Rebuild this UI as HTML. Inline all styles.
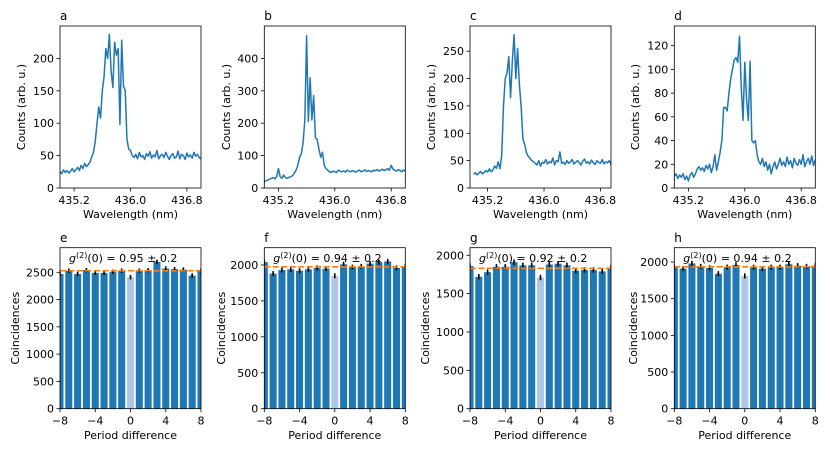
<!DOCTYPE html>
<html><head><meta charset="utf-8"><style>
body{margin:0;background:#fff}
svg{display:block;font-family:"DejaVu Sans","Liberation Sans",sans-serif}
</style></head><body>
<svg id="fig" width="830" height="453" viewBox="0 0 830 453" xmlns="http://www.w3.org/2000/svg"></svg>
<script>
const wavelengths=[435.0,435.025,435.05,435.075,435.1,435.125,435.15,435.175,435.2,435.225,435.25,435.275,435.3,435.325,435.35,435.375,435.4,435.425,435.45,435.475,435.5,435.525,435.55,435.575,435.6,435.625,435.65,435.675,435.7,435.725,435.75,435.775,435.8,435.825,435.85,435.875,435.9,435.925,435.95,435.975,436.0,436.025,436.05,436.075,436.1,436.125,436.15,436.175,436.2,436.225,436.25,436.275,436.3,436.325,436.35,436.375,436.4,436.425,436.45,436.475,436.5,436.525,436.55,436.575,436.6,436.625,436.65,436.675,436.7,436.725,436.75,436.775,436.8,436.825,436.85,436.875,436.9,436.925,436.95,436.975,437.0];
const countsA=[25,22,28,24,27,23,26,30,25,28,32,27,35,30,38,33,36,40,48,55,72,100,125,108,150,172,215,200,237,180,155,225,205,215,98,228,158,150,75,60,58,50,47,52,45,55,48,50,44,53,49,56,46,51,48,58,45,50,52,47,55,49,44,50,53,46,48,57,45,52,50,44,54,48,51,46,55,49,52,47,45];
const countsB=[20,22,25,27,30,32,28,35,60,35,30,40,32,30,33,35,38,45,55,70,95,105,140,210,470,205,340,210,285,155,150,120,95,110,70,60,55,50,48,52,50,48,55,52,50,53,49,55,52,50,54,51,49,53,55,50,52,56,51,54,52,50,55,53,57,52,55,58,54,56,60,55,70,58,55,52,57,54,50,56,52];
const countsC=[25,28,24,27,30,26,28,32,29,35,30,33,40,36,48,35,60,150,200,210,240,165,230,280,200,255,190,150,90,80,65,58,55,50,48,45,42,50,40,47,45,52,44,48,46,55,42,50,48,66,45,47,43,50,45,48,52,44,47,50,46,42,49,53,45,48,44,51,46,43,50,47,45,52,44,48,46,50,43,47,49];
const countsD=[10,12,8,11,9,12,7,10,6,11,13,9,12,16,18,15,17,14,19,16,20,13,18,28,15,22,30,40,68,68,65,80,92,100,108,110,106,128,85,57,106,75,57,107,40,38,40,28,22,20,25,18,22,15,20,12,18,22,16,20,25,19,22,18,26,20,23,17,25,21,19,24,20,28,18,22,25,20,27,19,24];
const periods=[-8,-7,-6,-5,-4,-3,-2,-1,0,1,2,3,4,5,6,7,8];
const coincE=[2470,2530,2470,2540,2490,2490,2510,2530,2410,2530,2540,2690,2570,2560,2550,2440,2530];
const coincF=[2040,1880,1930,1940,1920,1940,1960,1950,1850,2010,1970,1980,2020,2040,2050,1960,1980];
const coincG=[1860,1720,1780,1850,1850,1910,1870,1870,1710,1880,1890,1870,1800,1810,1810,1790,1840];
const coincH=[1930,1910,1980,1940,1920,1840,1930,1960,1810,1930,1910,1930,1930,1970,1950,1940,1950];
const meanLines=[2530,1975,1830,1935];
const g2Labels=["0.95","0.94","0.92","0.94"];
const errSize=[40,35,35,35];
const specTicks=[[0,50,100,150,200],[0,100,200,300,400],[0,50,100,150,200,250],[0,20,40,60,80,100,120]];
const wlTicks=[435.2,436.0,436.8];
const periodTicks=[-8,-4,0,4,8];
const coincTicks=[[0,500,1000,1500,2000,2500],[0,500,1000,1500,2000],[0,500,1000,1500,2000],[0,500,1000,1500,2000]];

const NS="http://www.w3.org/2000/svg";
const svg=document.getElementById('fig');
const FS=11;
function mk(tag,attrs,parent){const e=document.createElementNS(NS,tag);for(const k in attrs)e.setAttribute(k,attrs[k]);(parent||svg).appendChild(e);return e;}
function txt(s,attrs,parent){const e=mk('text',attrs,parent);e.textContent=s;return e;}
function fmt(v){return v<0?'\u2212'+(-v):String(v);}

const lefts=[60,264.3,470,674.3];
const W=141;
const topPanels=[
 {label:'a',counts:countsA,ymax:250,xmin:435.0,xmax:437.0},
 {label:'b',counts:countsB,ymax:500,xmin:435.0,xmax:437.0},
 {label:'c',counts:countsC,ymax:296,xmin:434.95,xmax:436.95},
 {label:'d',counts:countsD,ymax:136.6,xmin:435.0,xmax:437.0}];
const botPanels=[
 {label:'e',vals:coincE,ymax:2951},
 {label:'f',vals:coincF,ymax:2241},
 {label:'g',vals:coincG,ymax:2099},
 {label:'h',vals:coincH,ymax:2195}];

function axesFrame(g,x0,y0,w,h){
  const f=mk('rect',{x:x0,y:y0,width:w,height:h,fill:'none',stroke:'#000','stroke-width':0.8},g);
  
  
}

topPanels.forEach((p,i)=>{
  const x0=lefts[i],y0=26,h=162;
  const g=mk('g',{});
  
  
  const sx=v=>x0+(v-p.xmin)/(p.xmax-p.xmin)*W;
  const sy=v=>y0+h-v/p.ymax*h;
  const cid='clipT'+i;
  const cp=mk('clipPath',{id:cid},g);mk('rect',{x:x0,y:y0,width:W,height:h},cp);
  let d='';
  const n=Math.min(wavelengths.length,p.counts.length);
  for(let k=0;k<n;k++){d+=(k?'L':'M')+sx(wavelengths[k]).toFixed(2)+','+sy(p.counts[k]).toFixed(2);}
  const line=mk('path',{d:d,fill:'none',stroke:'#1f77b4','stroke-width':1.5,'clip-path':'url(#'+cid+')','stroke-linejoin':'round'},g);
  
  
  axesFrame(g,x0,y0,W,h);
  specTicks[i].forEach(t=>{
    const y=sy(t);
    mk('line',{x1:x0-3.5,x2:x0,y1:y,y2:y,stroke:'#000','stroke-width':0.8},g);
    const tl=txt(String(t),{x:x0-6,y:y+4,'text-anchor':'end','font-size':FS},g);
    
    
  });
  wlTicks.forEach(t=>{
    const x=sx(t);
    mk('line',{x1:x,x2:x,y1:y0+h,y2:y0+h+3.5,stroke:'#000','stroke-width':0.8},g);
    const tl=txt(t.toFixed(1),{x:x,y:y0+h+16,'text-anchor':'middle','font-size':FS},g);
    
    
  });
  const xl=txt('Wavelength (nm)',{x:x0+W/2,y:218,'text-anchor':'middle','font-size':FS},g);
  
  
  const yx=[25,230,435,639][i];
  const yl=txt('Counts (arb. u.)',{x:yx,y:y0+h/2,'text-anchor':'middle','font-size':FS,transform:'rotate(-90 '+yx+' '+(y0+h/2)+')'},g);
  
  
  const pl=txt(p.label,{x:x0,y:20,'font-size':12},g);
  
  
});

botPanels.forEach((p,i)=>{
  const x0=lefts[i],y0=247.7,h=161;
  const g=mk('g',{});
  
  
  const sx=v=>x0+(v+8)/16*W;
  const sy=v=>y0+h-v/p.ymax*h;
  const cid='clipB'+i;
  const cp=mk('clipPath',{id:cid},g);mk('rect',{x:x0,y:y0,width:W,height:h},cp);
  const bw=0.8*W/16;
  const n=Math.min(periods.length,p.vals.length);
  for(let k=0;k<n;k++){
    const v=p.vals[k];
    const b=mk('rect',{x:sx(periods[k])-bw/2,y:sy(v),width:bw,height:sy(0)-sy(v),fill:periods[k]===0?'#aec7e8':'#1f77b4','clip-path':'url(#'+cid+')'},g);
    
    
  }
  for(let k=0;k<n;k++){
    const v=p.vals[k],x=sx(periods[k]);
    const e=mk('line',{x1:x,x2:x,y1:sy(v+errSize[i]),y2:sy(v-errSize[i]),stroke:'#000','stroke-width':1.6,'clip-path':'url(#'+cid+')'},g);
    
    
  }
  const ml=mk('line',{x1:x0,x2:x0+W,y1:sy(meanLines[i]),y2:sy(meanLines[i]),stroke:'#ff7f0e','stroke-width':1.6,'stroke-dasharray':'6,2.5'},g);
  
  
  axesFrame(g,x0,y0,W,h);
  coincTicks[i].forEach(t=>{
    const y=sy(t);
    mk('line',{x1:x0-3.5,x2:x0,y1:y,y2:y,stroke:'#000','stroke-width':0.8},g);
    const tl=txt(String(t),{x:x0-6,y:y+4,'text-anchor':'end','font-size':FS},g);
    
    
  });
  periodTicks.forEach(t=>{
    const x=sx(t);
    mk('line',{x1:x,x2:x,y1:y0+h,y2:y0+h+3.5,stroke:'#000','stroke-width':0.8},g);
    const tl=txt(fmt(t),{x:x,y:y0+h+16,'text-anchor':'middle','font-size':FS},g);
    
    
  });
  const xl=txt('Period difference',{x:x0+W/2,y:439,'text-anchor':'middle','font-size':FS},g);
  
  
  const yx=[19,225,429,637][i];
  const yl=txt('Coincidences',{x:yx,y:y0+h/2,'text-anchor':'middle','font-size':FS,transform:'rotate(-90 '+yx+' '+(y0+h/2)+')'},g);
  
  
  const pl=txt(p.label,{x:x0,y:242,'font-size':12},g);
  
  
  const an=mk('text',{x:x0+9,y:262,'font-size':FS},g);
  
  
  const t1=mk('tspan',{'font-style':'italic'},an);t1.textContent='g';
  const t2=mk('tspan',{dy:-4,'font-size':8},an);t2.textContent='(2)';
  const t3=mk('tspan',{dy:4},an);t3.textContent='(0) = '+g2Labels[i]+' \u00b1 0.2';
});
</script>
</body></html>
